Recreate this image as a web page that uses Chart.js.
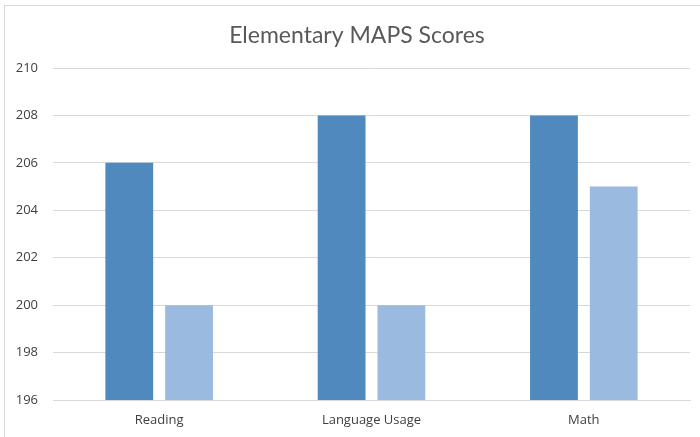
<!DOCTYPE html>
<html>
<head>
<meta charset="utf-8">
<script src="https://cdn.jsdelivr.net/npm/chart.js@4"></script>
<style>
  body { margin: 0; background: #fff; }
  #frame { position: absolute; left: 4px; top: 5px; width: 720px; height: 460px; border: 1px solid #d9d9d9; }
  #wrap { position: absolute; left: 0; top: 0; width: 700px; height: 437px; }
</style>
</head>
<body>
<div id="frame"></div>
<div id="wrap"><canvas id="myChart" width="700" height="437"></canvas></div>
<script>
const categories = ["Reading", "Language Usage", "Math"];
const seriesNames = ["Series 1", "Series 2"];
const series1 = [206, 208, 208];
const series2 = [200, 200, 205];
const yMin = 196;
const yMax = 210;
const yStep = 2;
const titleText = "Elementary MAPS Scores";

// title is drawn by hand so it can sit a bit right of the canvas centre, like the original
const titlePlugin = {
  id: "offsetTitle",
  afterDraw(chart) {
    const c = chart.ctx;
    c.save();
    c.font = "23px Lato";
    c.fillStyle = "#595959";
    c.textAlign = "center";
    c.textBaseline = "middle";
    c.fillText(titleText, 357, 36);
    c.restore();
  },
};

let ctx = document.getElementById("myChart").getContext("2d");
let myChart = new Chart(ctx, {
  type: "bar",
  data: {
    labels: categories,
    datasets: [
      {
        label: seriesNames[0],
        data: series1,
        backgroundColor: "#4f89be",
        categoryPercentage: 0.563,
        barPercentage: 0.8,
      },
      {
        label: seriesNames[1],
        data: series2,
        backgroundColor: "#9bbae0",
        categoryPercentage: 0.563,
        barPercentage: 0.8,
      },
    ],
  },
  options: {
    responsive: false,
    animation: false,
    layout: { padding: { left: 0, right: 10, top: 68, bottom: 0 } },
    plugins: {
      legend: { display: false },
      tooltip: { enabled: false },
      title: { display: false },
    },
    scales: {
      x: {
        grid: { display: false, drawTicks: false },
        border: { color: "#d9d9d9" },
        ticks: {
          color: "#404040",
          font: { family: "Open Sans", size: 13 },
          padding: 12,
        },
        afterFit: function (scale) {
          scale.height = 37;
        },
      },
      y: {
        min: yMin,
        max: yMax,
        ticks: {
          stepSize: yStep,
          color: "#404040",
          font: { family: "Open Sans", size: 13 },
          padding: 15,
        },
        grid: { color: "#d9d9d9", drawTicks: false },
        border: { display: false },
        afterFit: function (scale) {
          scale.width = 53;
        },
      },
    },
  },
  plugins: [titlePlugin],
});
</script>
</body>
</html>
